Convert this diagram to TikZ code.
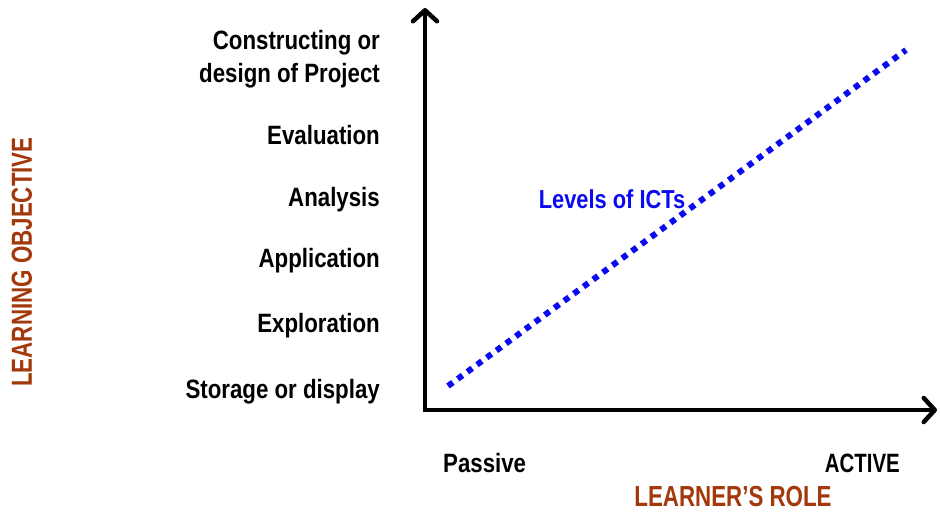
\documentclass[tikz,border=0pt]{standalone}
\usepackage{fontspec}
\setmainfont{Liberation Sans}[FakeStretch=0.84]
\newfontfamily\titlefont{Liberation Sans}[FakeStretch=0.77]
\usetikzlibrary{arrows.meta}
\definecolor{rust}{HTML}{A3380B}
\definecolor{dotblue}{HTML}{0A0AF0}
\tikzset{
  axis/.style={line width=4.5pt, -{Straight Barb[length=11pt,width=24pt,line cap=round,line join=round]}},
  lvl/.style={anchor=base east, font=\bfseries\fontsize{26.5}{33}\selectfont, align=right, inner sep=0pt},
  role/.style={font=\bfseries\fontsize{26.5}{30}\selectfont, inner sep=0pt},
  title/.style={font=\titlefont\bfseries\fontsize{29}{32}\selectfont, text=rust, inner sep=0pt},
}
\begin{document}
\begin{tikzpicture}[x=1pt,y=-1pt]
\useasboundingbox (0,0) rectangle (940,514);
\coordinate (o) at (425,410);
\coordinate (ytop) at (425,8);
\coordinate (xend) at (937,410);
\draw[axis] (o) -- (ytop);
\draw[axis] ([xshift=-2.25pt]o) -- (xend);
\coordinate (d1) at (448,386);
\coordinate (d2) at (906,50);
\draw[dotblue, line width=6pt, dash pattern=on 6pt off 6pt] (d1) -- (d2);
\node[lvl] (l6a) at (380,49) {Constructing or};
\node[lvl] (l6b) at (380,82) {design of Project};
\node[lvl] (l5) at (380,144) {Evaluation};
\node[lvl] (l4) at (380,206) {Analysis};
\node[lvl] (l3) at (380,267) {Application};
\node[lvl] (l2) at (380,332) {Exploration};
\node[lvl] (l1) at (380,398) {Storage or display};
\node[role, anchor=west] (pas) at (443,463) {Passive};
\node[role, anchor=east, font=\titlefont\bfseries\fontsize{26.5}{30}\selectfont] (act) at (900,463) {ACTIVE};
\node[title] (xl) at (733,497) {LEARNER’S ROLE};
\node[title, rotate=90] (yl) at (22,262) {LEARNING OBJECTIVE};
\node[font=\bfseries\fontsize{26}{30}\selectfont, text=dotblue, inner sep=0pt] (ict) at (612,199) {Levels of ICTs};
\end{tikzpicture}
\end{document}
